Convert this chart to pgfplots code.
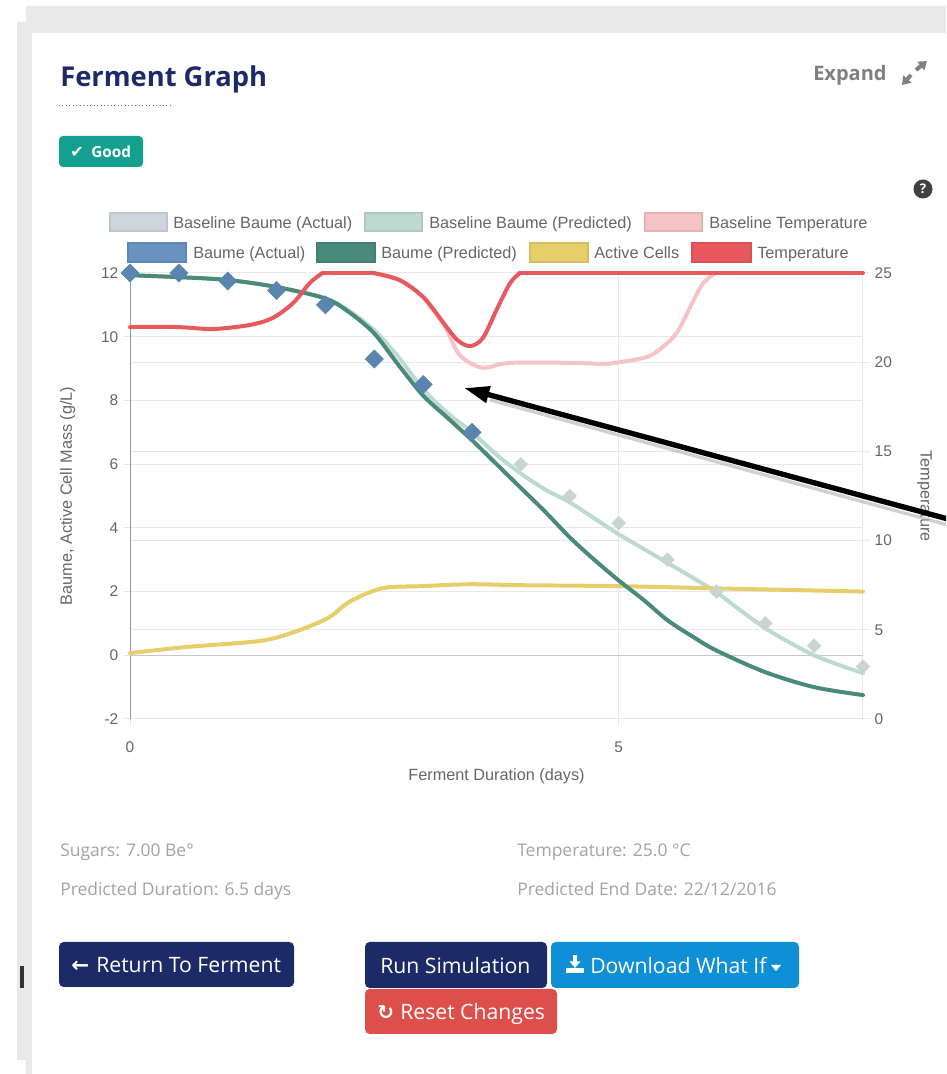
\documentclass[border=0pt]{standalone}
\usepackage{pgfplots}
\pgfplotsset{compat=1.18}
\usepackage{fontspec}
\setmainfont{Open Sans}
\newfontfamily\chartfont{Liberation Sans}
\newfontfamily\symfont{DejaVu Sans}
\usetikzlibrary{arrows.meta}
\definecolor{navy}{HTML}{1D2A68}
\definecolor{panelgray}{HTML}{E9E9E9}
\definecolor{badgec}{HTML}{13A08E}
\definecolor{dlblue}{HTML}{0F8FD6}
\definecolor{resetred}{HTML}{DD4F4B}
\definecolor{txtc}{HTML}{666666}
\definecolor{infotxt}{HTML}{A3A3A3}
\definecolor{gridc}{HTML}{E8E8E8}
\definecolor{baseactc}{HTML}{CDD6DF}
\definecolor{basemark}{HTML}{C8D4D0}
\definecolor{basepredc}{HTML}{BDDAD0}
\definecolor{basetempc}{HTML}{F6C3C6}
\definecolor{actc}{HTML}{6A92C0}
\definecolor{actmark}{HTML}{5A85AE}
\definecolor{predc}{HTML}{4A8A7A}
\definecolor{cellc}{HTML}{E6CF6A}
\definecolor{tempc}{HTML}{E8595F}
\pgfplotsset{
  chart/.style={
    scale only axis, width=549.75pt, height=334.5pt,
    at={(97.5pt,266.25pt)}, anchor=south west,
    xmin=0, xmax=7.5,
    clip=false,
    tick style={color=gridc, line width=0.75pt},
    major tick length=5.25pt,
    tick align=outside,
    ticklabel style={font=\chartfont\fontsize{11.6}{13}\selectfont, text=txtc},
    label style={font=\chartfont\fontsize{12.2}{14}\selectfont, text=txtc},
    /pgf/number format/assume math mode=true,
    grid style={color=gridc, line width=0.75pt},
  },
  curve/.style={smooth, tension=0.5, no markers, line width=3pt, line cap=round, line join=round},
  flat/.style={no markers, line width=3pt, line cap=round},
}
\tikzset{px/.style={x=0.75pt, y=-0.75pt, yshift=805.5pt}}
\begin{document}
\begin{tikzpicture}
\useasboundingbox (0,0) rectangle (709.5pt,805.5pt);
\begin{scope}[px]
\fill[white] (0,0) rectangle (946,1074);
% page chrome
\fill[panelgray] (26,6) rectangle (946,33);
\fill[panelgray] (17,22) rectangle (32,1060);
\fill[panelgray] (26,1060) rectangle (32,1074);
\fill[black!80] (20,966) rectangle (24,988);

\node[anchor=base west, inner sep=0, text=navy, font=\bfseries\fontsize{20.5}{24}\selectfont] at (60,87) {Ferment Graph};
\draw[navy!70, dotted, line width=0.6pt] (59,105) -- (170,105);
\fill[badgec, rounded corners=3pt] (59,136) rectangle (143,167);
\node[anchor=base west, inner sep=0, text=white, font=\symfont\fontsize{12}{14}\selectfont] at (70,158) {✔};
\node[anchor=base west, inner sep=0, text=white, font=\bfseries\fontsize{11.5}{14}\selectfont] at (91,158) {Good};
\node[anchor=base west, inner sep=0, text=black!50, font=\bfseries\fontsize{15}{18}\selectfont] at (813,81) {Expand};
\draw[black!50, line width=3pt, -{Triangle[length=6pt,width=8pt]}] (911,75) -- (902,85);
\draw[black!50, line width=3pt, -{Triangle[length=6pt,width=8pt]}] (916,70) -- (927,61);
\fill[black!75] (923,189) circle (9.5);
\node[text=white, inner sep=0, font=\bfseries\fontsize{10}{12}\selectfont] at (923,189) {?};

% legend
\newcommand{\legitem}[7]{%
  \fill[#3] (#1,#5) rectangle (#2,#6);
  \draw[#3!92!black, line width=1.5pt] (#1,#5) rectangle (#2,#6);
  \node[anchor=base west, inner sep=0, text=txtc, font=\chartfont\fontsize{12.2}{14}\selectfont] at (#4,{(#5+#6)/2+6.5}) {#7};
}
\legitem{110}{167}{baseactc}{173}{213}{231}{Baseline Baume (Actual)}
\legitem{365}{422}{basepredc}{429}{213}{231}{Baseline Baume (Predicted)}
\legitem{645}{702}{basetempc}{709}{213}{231}{Baseline Temperature}
\legitem{128}{186}{actc}{193}{243}{262}{Baume (Actual)}
\legitem{317}{375}{predc}{381}{243}{262}{Baume (Predicted)}
\legitem{530}{588}{cellc}{594}{243}{262}{Active Cells}
\legitem{692}{751}{tempc}{757}{243}{262}{Temperature}
\end{scope}

% right scale: grid, ticks and label only, so it stays under everything
\begin{axis}[chart,
    ymin=0, ymax=25,
    axis y line*=right, axis x line=none,
    axis line style={color=gridc, line width=0.75pt},
    ytick={0,5,...,25},
    ymajorgrids,
    ylabel={Temperature},
    ylabel style={at={(axis description cs:1.084,0.5)}, anchor=center, rotate=180},
]
\end{axis}

% left axis: Baume and active cells
\begin{axis}[chart,
    ymin=-2, ymax=12,
    axis y line*=left, axis x line*=bottom,
    axis line style={color=gridc, line width=0.75pt},
    y axis line style={color=black!40},
    xtick={0,5}, ytick={-2,2,4,6,8,10,12},
    extra y ticks={0},
    extra y tick style={grid style={color=black!22, line width=1pt}},
    grid=major,
    x tick label style={yshift=-8pt},
    xlabel={Ferment Duration (days)},
    xlabel style={at={(axis description cs:0.5,-0.128)}, anchor=center},
    ylabel={Baume, Active Cell Mass (g/L)},
    ylabel style={at={(axis description cs:-0.085,0.5)}, anchor=center},
]
\addplot[curve, basepredc] coordinates {
  (0,11.93) (0.5,11.87) (1,11.78) (1.5,11.56) (2,11.2) (2.25,10.8) (2.5,10.2)
  (2.75,9.35) (3,8.35) (3.25,7.6) (3.5,7.0) (3.75,6.3) (4,5.7) (4.25,5.2)
  (4.5,4.8) (4.75,4.3) (5,3.8) (5.25,3.35) (5.5,2.9) (5.75,2.45) (6,1.98)
  (6.25,1.4) (6.5,0.85) (6.75,0.4) (7,0) (7.25,-0.3) (7.5,-0.56)
};
\addplot[only marks, mark=square*, mark size=3.6pt, color=basemark, mark options={rotate=45, fill=basemark, draw=basemark}] coordinates {
  (4,6.0) (4.5,5.0) (5,4.15) (5.5,3.0) (6,2.0) (6.5,1.0) (7,0.3) (7.5,-0.35)
};
\addplot[curve, cellc] coordinates {
  (0,0.07) (0.58,0.26) (1.33,0.45) (1.67,0.72) (2.02,1.16) (2.22,1.63) (2.43,1.95)
  (2.63,2.13) (2.97,2.17) (3.48,2.23) (3.99,2.2) (5,2.17) (6,2.1) (7.5,2.0)
};
\addplot[curve, predc] coordinates {
  (0,11.93) (0.5,11.87) (1,11.78) (1.5,11.56) (2,11.2) (2.25,10.75) (2.5,10.1)
  (2.75,9.1) (3,8.15) (3.25,7.45) (3.5,6.75) (3.75,6.0) (4,5.25) (4.25,4.5)
  (4.5,3.7) (4.75,3.0) (5,2.35) (5.25,1.75) (5.5,1.1) (5.75,0.6) (6,0.15)
  (6.5,-0.53) (7,-1.0) (7.5,-1.25)
};
\addplot[only marks, mark=square*, mark size=4.8pt, color=actmark, mark options={rotate=45, fill=actmark, draw=actmark}] coordinates {
  (0,12) (0.5,12) (1,11.75) (1.5,11.45) (2,11) (2.5,9.3) (3,8.5) (3.5,7.0)
};
\end{axis}

% temperature curves on the right scale
\begin{axis}[chart, ymin=0, ymax=25, hide axis]
\addplot[curve, basetempc] coordinates {
  (2.49,25) (2.76,24.6) (3,23.65) (3.2,22.25) (3.35,20.57) (3.48,19.96) (3.63,19.68)
  (3.89,19.96) (4.53,19.96) (4.88,19.9) (5.01,20.0) (5.29,20.29) (5.45,20.85)
  (5.6,21.69) (5.76,23.4) (5.86,24.4) (5.99,25)
};
\addplot[curve, tempc] coordinates {
  (0,21.97) (0.48,21.97) (0.85,21.86) (1.23,22.09) (1.46,22.48) (1.67,23.32) (1.84,24.44) (1.97,25)
};
\addplot[flat, tempc] coordinates {(1.97,25) (2.49,25)};
\addplot[curve, tempc] coordinates {
  (2.49,25) (2.76,24.6) (3,23.65) (3.2,22.25) (3.35,21.24) (3.48,20.9) (3.61,21.35)
  (3.76,23.04) (3.89,24.44) (3.99,25)
};
\addplot[flat, tempc] coordinates {(3.99,25) (7.5,25)};
\end{axis}

\begin{scope}[px]
% annotation arrow over the chart
\clip (0,0) rectangle (946,1074);
\draw[black!30, opacity=0.6, line width=2.5pt] (948,525) -- (490,400);
\draw[black, line width=4pt, -{Triangle[length=19pt,width=12pt]}] (948,519) -- (464,388);

% info lines
\begin{scope}[every node/.style={anchor=base west, inner sep=0, text=infotxt, font=\fontsize{13.1}{15}\selectfont}]
\node at (60,857) {Sugars: 7.00 Be°};
\node at (60,896) {Predicted Duration: 6.5 days};
\node at (517,857) {Temperature: 25.0 °C};
\node at (517,896) {Predicted End Date: 22/12/2016};
\end{scope}

% buttons
\fill[navy, rounded corners=3.5pt] (59,942) rectangle (294,987);
\fill[navy, rounded corners=3.5pt] (365,942) rectangle (547,988);
\fill[dlblue, rounded corners=3.5pt] (551,942) rectangle (799,988);
\fill[resetred, rounded corners=3.5pt] (365,989) rectangle (557,1034);
\begin{scope}[every node/.style={anchor=base west, inner sep=0, text=white, font=\fontsize{15.9}{18}\selectfont}]
\node at (96,973) {Return To Ferment};
\node at (380,974) {Run Simulation};
\node at (590,974) {Download What If};
\node at (400,1020) {Reset Changes};
\node[font=\symfont\bfseries\fontsize{16}{18}\selectfont] at (71,973) {←};
\node[font=\symfont\bfseries\fontsize{15}{18}\selectfont] at (377,1020) {↻};
\end{scope}
\draw[white, line width=2.6pt, -{Triangle[length=5pt,width=8pt]}] (575,955) -- (575,968);
\fill[white] (566,968) rectangle (584,973);
\fill[white] (771,965) -- (781,965) -- (776,971) -- cycle;
\end{scope}
\end{tikzpicture}
\end{document}
